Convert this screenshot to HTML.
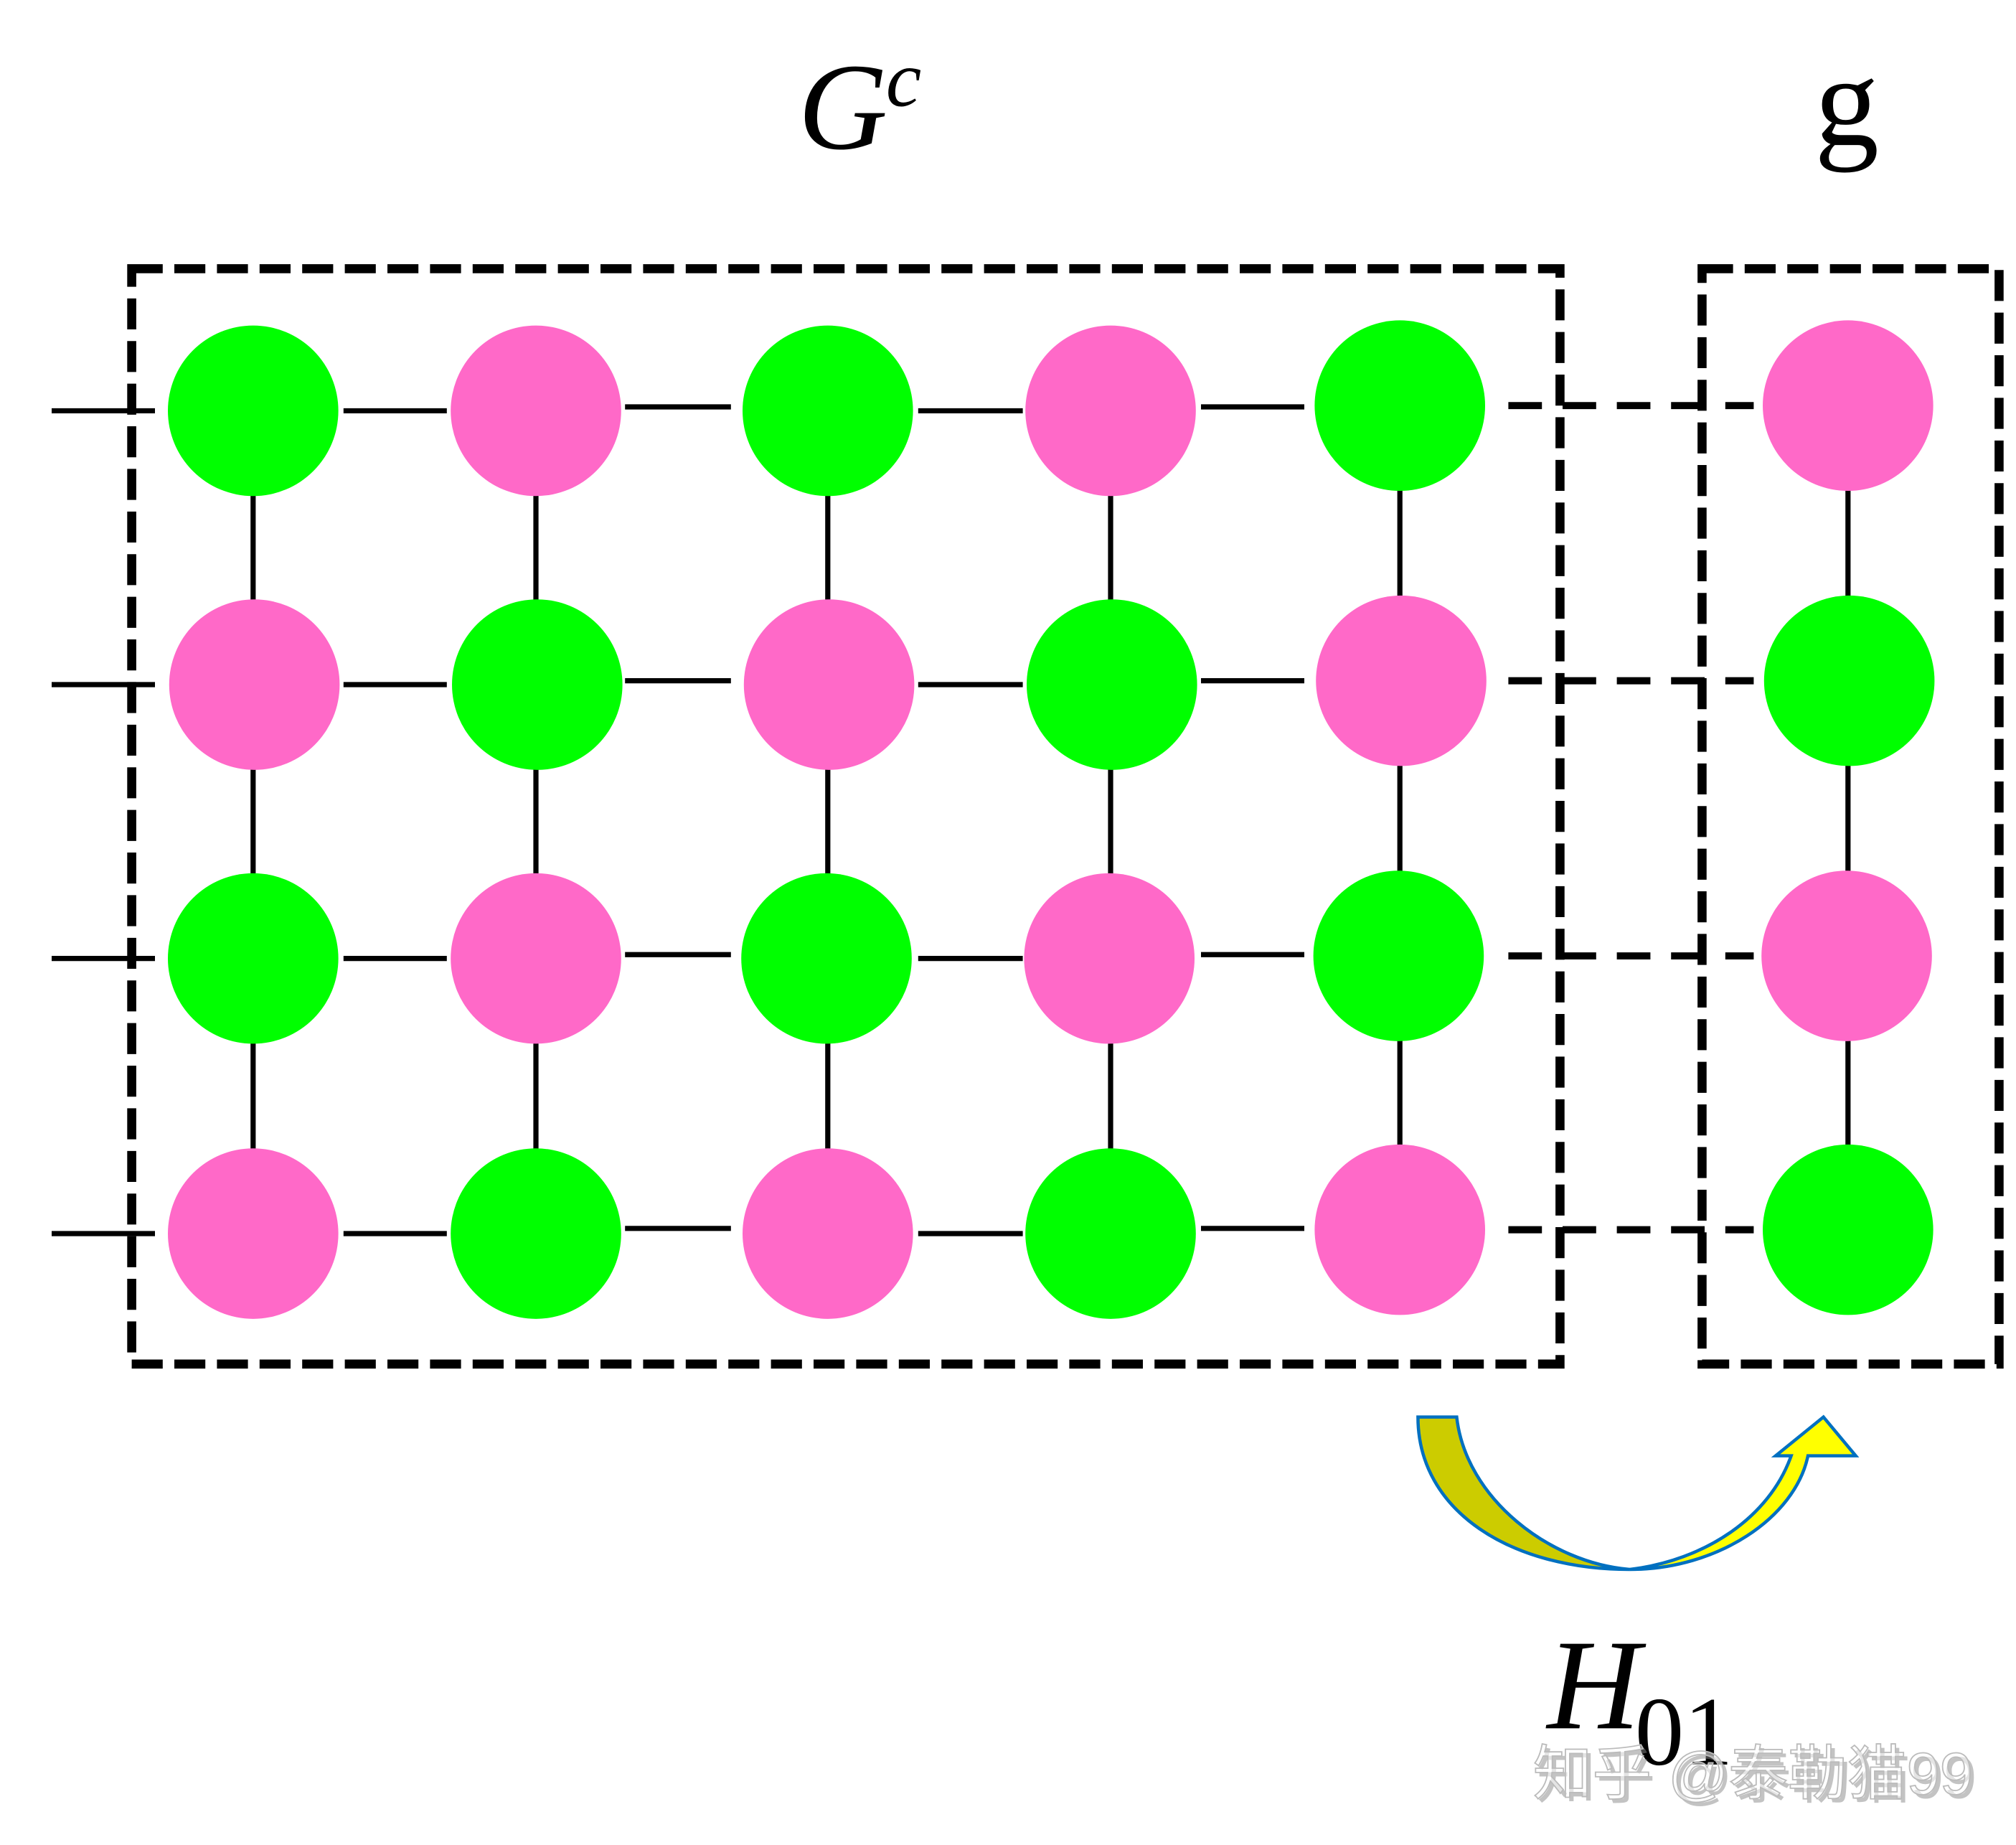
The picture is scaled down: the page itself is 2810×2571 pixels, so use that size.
<!DOCTYPE html>
<html><head><meta charset="utf-8"><style>
html,body{margin:0;padding:0;background:#fff;}
svg{display:block;}
</style></head><body>
<svg width="2810" height="2571" viewBox="0 0 1561.1 1428.3" xmlns="http://www.w3.org/2000/svg">
<rect width="1562" height="1430" fill="#fff"/>
<text x="618" y="115" font-family="Liberation Serif, serif" font-style="italic" font-size="96">G</text>
<text x="686" y="82" font-family="Liberation Serif, serif" font-style="italic" font-size="62">c</text>
<text x="1430" y="112" text-anchor="middle" font-family="Liberation Serif, serif" font-size="100">g</text>
<g fill="none" stroke="#000" stroke-width="7" stroke-dasharray="24 9">
<rect x="102" y="208" width="1106" height="848"/>
<rect x="1318" y="208" width="230" height="848"/>
</g>
<g stroke="#000" stroke-width="4">
<line x1="40" y1="318" x2="120" y2="318"/>
<line x1="40" y1="530" x2="120" y2="530"/>
<line x1="40" y1="742" x2="120" y2="742"/>
<line x1="40" y1="955" x2="120" y2="955"/>
<line x1="266" y1="318" x2="346" y2="318"/><line x1="484" y1="315" x2="566" y2="315"/><line x1="711" y1="318" x2="792" y2="318"/><line x1="930" y1="315" x2="1010" y2="315"/>
<line x1="266" y1="530" x2="346" y2="530"/><line x1="484" y1="527" x2="566" y2="527"/><line x1="711" y1="530" x2="792" y2="530"/><line x1="930" y1="527" x2="1010" y2="527"/>
<line x1="266" y1="742" x2="346" y2="742"/><line x1="484" y1="739" x2="566" y2="739"/><line x1="711" y1="742" x2="792" y2="742"/><line x1="930" y1="739" x2="1010" y2="739"/>
<line x1="266" y1="955" x2="346" y2="955"/><line x1="484" y1="951" x2="566" y2="951"/><line x1="711" y1="955" x2="792" y2="955"/><line x1="930" y1="951" x2="1010" y2="951"/>
<line x1="196" y1="318" x2="196" y2="955"/>
<line x1="415" y1="318" x2="415" y2="955"/>
<line x1="641" y1="318" x2="641" y2="955"/>
<line x1="860" y1="318" x2="860" y2="955"/>
<line x1="1084" y1="314" x2="1084" y2="952"/>
<line x1="1431" y1="314" x2="1431" y2="952"/>
</g>
<g stroke="#000" stroke-width="5.5" stroke-dasharray="26 16">
<line x1="1168" y1="314" x2="1358" y2="314"/>
<line x1="1168" y1="527" x2="1358" y2="527"/>
<line x1="1168" y1="740" x2="1358" y2="740"/>
<line x1="1168" y1="952" x2="1358" y2="952"/>
</g>
<g>
<circle cx="196" cy="318" r="66" fill="#00ff00"/><circle cx="415" cy="318" r="66" fill="#ff69c8"/><circle cx="641" cy="318" r="66" fill="#00ff00"/><circle cx="860" cy="318" r="66" fill="#ff69c8"/><circle cx="1084" cy="314" r="66" fill="#00ff00"/>
<circle cx="197" cy="530" r="66" fill="#ff69c8"/><circle cx="416" cy="530" r="66" fill="#00ff00"/><circle cx="642" cy="530" r="66" fill="#ff69c8"/><circle cx="861" cy="530" r="66" fill="#00ff00"/><circle cx="1085" cy="527" r="66" fill="#ff69c8"/>
<circle cx="196" cy="742" r="66" fill="#00ff00"/><circle cx="415" cy="742" r="66" fill="#ff69c8"/><circle cx="640" cy="742" r="66" fill="#00ff00"/><circle cx="859" cy="742" r="66" fill="#ff69c8"/><circle cx="1083" cy="740" r="66" fill="#00ff00"/>
<circle cx="196" cy="955" r="66" fill="#ff69c8"/><circle cx="415" cy="955" r="66" fill="#00ff00"/><circle cx="641" cy="955" r="66" fill="#ff69c8"/><circle cx="860" cy="955" r="66" fill="#00ff00"/><circle cx="1084" cy="952" r="66" fill="#ff69c8"/>
<circle cx="1431" cy="314" r="66" fill="#ff69c8"/><circle cx="1432" cy="527" r="66" fill="#00ff00"/><circle cx="1430" cy="740" r="66" fill="#ff69c8"/><circle cx="1431" cy="952" r="66" fill="#00ff00"/>
</g>
<g stroke="#0070c0" stroke-width="2.5" stroke-linejoin="miter">
<path d="M1098 1097 L1128 1097 C1135 1160 1200 1210 1262 1215 C1170 1215 1098 1170 1098 1097 Z" fill="#cccc00"/>
<path d="M1262 1215 C1330 1215 1390 1175 1400 1127 L1437 1127 L1412 1097 L1375 1127 L1387 1127 C1370 1175 1320 1208 1262 1215 Z" fill="#ffff00"/>
</g>
<text x="1198" y="1338" font-family="Liberation Serif, serif" font-style="italic" font-size="100">H</text>
<text x="1266" y="1366" font-family="Liberation Serif, serif" font-size="76">01</text>
<text x="1190" y="1392" font-family="Liberation Sans, Noto Sans CJK SC, sans-serif" font-size="46" fill="#888" opacity="0.5">知乎 @泰勒猫99</text>
<text x="1187" y="1389" font-family="Liberation Sans, Noto Sans CJK SC, sans-serif" font-size="46" fill="#fff" fill-opacity="0.55" stroke="#bbb" stroke-width="1">知乎 @泰勒猫99</text>
</svg>
</body></html>
